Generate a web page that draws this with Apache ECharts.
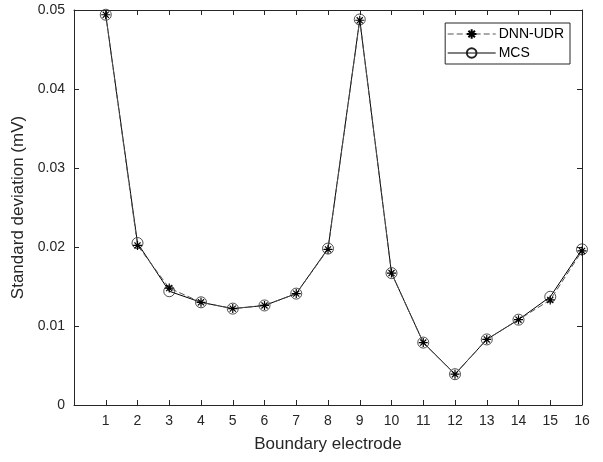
<!DOCTYPE html>
<html>
<head>
<meta charset="utf-8">
<script src="https://cdn.jsdelivr.net/npm/echarts@6/dist/echarts.min.js"></script>
<style>html,body{margin:0;padding:0;background:#fff}#c{width:603px;height:462px}</style>
</head>
<body>
<div id="c"></div>
<script>
var electrodes = [1,2,3,4,5,6,7,8,9,10,11,12,13,14,15,16];
var dnnUdr = [0.0494,0.0202,0.0148,0.0130,0.0122,0.0126,0.0141,0.0197,0.0487,0.0167,0.0079,0.0039,0.0083,0.0108,0.0133,0.0195];
var mcs    = [0.0494,0.0205,0.0144,0.0130,0.0122,0.0126,0.0141,0.0198,0.0488,0.0167,0.0079,0.0039,0.0083,0.0108,0.0137,0.0197];
var yTicks = ['0','0.01','0.02','0.03','0.04','0.05'];

var font = 'Liberation Sans, Arial, sans-serif';
var axisCol = '#262626';
function pairs(v){ return electrodes.map(function(e,i){ return [e, v[i]]; }); }
var star = 'path://M0,5L10,5M5,0L5,10M1.6,1.6L8.4,8.4M1.6,8.4L8.4,1.6';

var chart = echarts.init(document.getElementById('c'), null, {renderer:'canvas'});
var xBase = {
  type:'value', min:0, max:16, interval:1,
  axisLine:{show:true, onZero:false, lineStyle:{color:axisCol, width:1}},
  axisTick:{show:true, inside:true, length:5, lineStyle:{color:axisCol}},
  splitLine:{show:false}
};
var yBase = {
  type:'value', min:0, max:0.05, interval:0.01,
  axisLine:{show:true, onZero:false, lineStyle:{color:axisCol, width:1}},
  axisTick:{show:true, inside:true, length:5, lineStyle:{color:axisCol}},
  splitLine:{show:false}
};
chart.setOption({
  animation:false,
  backgroundColor:'#fff',
  textStyle:{fontFamily:font},
  grid:{left:74, right:21, top:10, bottom:57},
  legend:{
    orient:'vertical', right:33, top:23,
    backgroundColor:'#fff', borderColor:'#262626', borderWidth:1,
    padding:[4,6,4,2], itemGap:5, itemWidth:48, itemHeight:12,
    lineStyle:{width:1},
    textStyle:{fontFamily:font, fontSize:14, color:'#000', padding:[0,0,0,-2]},
    data:['DNN-UDR','MCS']
  },
  xAxis:[
    Object.assign({}, xBase, {
      position:'bottom',
      name:'Boundary electrode', nameLocation:'middle', nameGap:31,
      nameTextStyle:{fontFamily:font, fontSize:17, color:axisCol},
      axisLabel:{fontFamily:font, fontSize:14, color:axisCol, margin:9,
        formatter:function(v){ return v===0 ? '' : String(v); }}
    }),
    Object.assign({}, xBase, {position:'top', axisLabel:{show:false}})
  ],
  yAxis:[
    Object.assign({}, yBase, {
      position:'left',
      name:'Standard deviation (mV)', nameLocation:'middle', nameGap:45,
      nameTextStyle:{fontFamily:font, fontSize:17, color:axisCol},
      axisLabel:{fontFamily:font, fontSize:14, color:axisCol, margin:9,
        formatter:function(v){ return yTicks[Math.round(v/0.01)]; }}
    }),
    Object.assign({}, yBase, {position:'right', axisLabel:{show:false}})
  ],
  series:[
    {
      name:'DNN-UDR', type:'line', data:pairs(dnnUdr), xAxisIndex:0, yAxisIndex:0,
      symbol:star, symbolSize:9, showAllSymbol:true,
      lineStyle:{color:'#555', width:1, type:[6,3]},
      itemStyle:{color:'transparent', borderColor:'#000', borderWidth:1.2},
      z:3
    },
    {
      name:'MCS', type:'line', data:pairs(mcs), xAxisIndex:0, yAxisIndex:0,
      symbol:'circle', symbolSize:11, showAllSymbol:true,
      lineStyle:{color:'#000', width:1},
      itemStyle:{color:'transparent', borderColor:'#222', borderWidth:0.8},
      z:2
    }
  ]
});
</script>
</body>
</html>
